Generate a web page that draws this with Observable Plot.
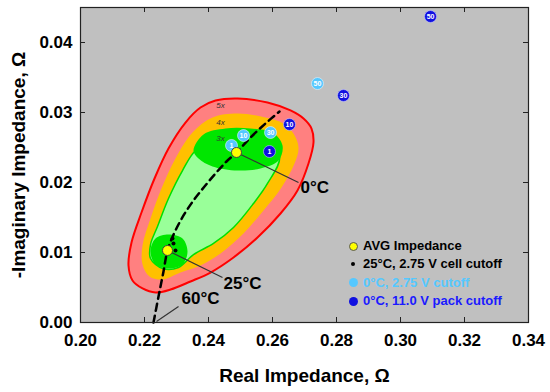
<!DOCTYPE html>
<html>
<head>
<meta charset="utf-8">
<script src="https://cdn.jsdelivr.net/npm/d3@7"></script>
<script src="https://cdn.jsdelivr.net/npm/@observablehq/plot@0.6"></script>
<style>
  body { margin: 0; background: #fff; }
  #wrap { position: relative; width: 550px; height: 392px; font-family: "Liberation Sans", Arial, sans-serif; }
  #legend { position: absolute; left: 346px; top: 237px; font: bold 13px "Liberation Sans", Arial, sans-serif; line-height: 18.3px; }
  #legend .row { display: flex; align-items: center; white-space: nowrap; }
  #legend .mk { width: 14px; display: flex; justify-content: center; align-items: center; margin-right: 3px; }
  #legend .mk span { display: block; border-radius: 50%; }
</style>
</head>
<body>
<div id="wrap"></div>
<script>
// ---- data ----
const xTicks = [0.20, 0.22, 0.24, 0.26, 0.28, 0.30, 0.32, 0.34];
const yTicks = [0.00, 0.01, 0.02, 0.03, 0.04];

// 5x zone boundary (Real, -Imag)
const zone5x = [
  [0.24906,0.03200],[0.25844,0.03143],[0.26563,0.03029],[0.26969,0.02914],[0.27219,0.02771],
  [0.27281,0.02571],[0.27125,0.02271],[0.26781,0.01886],[0.26250,0.01557],[0.25531,0.01214],
  [0.24781,0.00929],[0.24063,0.00714],[0.23438,0.00586],[0.22813,0.00471],[0.22344,0.00429],
  [0.21938,0.00486],[0.21625,0.00600],[0.21500,0.00814],[0.21594,0.01143],[0.21906,0.01571],
  [0.22313,0.02057],[0.22750,0.02486],[0.23281,0.02857],[0.23750,0.03071],[0.24219,0.03171]
];
// 4x zone boundary
const zone4x = [
  [0.24906,0.02986],[0.25781,0.02929],[0.26344,0.02843],[0.26656,0.02700],[0.26813,0.02500],
  [0.26688,0.02271],[0.26281,0.01929],[0.25719,0.01600],[0.25094,0.01271],[0.24375,0.00986],
  [0.23750,0.00814],[0.23125,0.00714],[0.22563,0.00614],[0.22156,0.00657],[0.21938,0.00829],
  [0.21938,0.01100],[0.22188,0.01486],[0.22531,0.01914],[0.22969,0.02343],[0.23500,0.02714],
  [0.24125,0.02929]
];
// 3x zone boundary
const zone3x = [
  [0.23594,0.02457],[0.24219,0.02629],[0.25625,0.02629],[0.26219,0.02371],[0.25844,0.01986],
  [0.25406,0.01700],[0.24781,0.01357],[0.24156,0.01129],[0.23531,0.00971],[0.23063,0.00786],
  [0.22563,0.00771],[0.22188,0.00914],[0.22188,0.01114],[0.22406,0.01371],[0.22750,0.01771],
  [0.23188,0.02171]
];
// cores around the two averages
const core0C = [
  [0.23531,0.02457],[0.23844,0.02686],[0.24531,0.02771],[0.25313,0.02771],[0.26000,0.02714],
  [0.26313,0.02529],[0.26188,0.02314],[0.25625,0.02200],[0.24906,0.02171],[0.24125,0.02229],
  [0.23688,0.02343]
];
const core25C = [
  [0.22188,0.01014],[0.22344,0.01200],[0.22750,0.01257],[0.23188,0.01200],[0.23344,0.01014],
  [0.23188,0.00829],[0.22750,0.00771],[0.22344,0.00829]
];
// dashed temperature trend
const trend = [
  [0.22281,0.00000],[0.22438,0.00371],[0.22594,0.00729],[0.22719,0.01029],[0.22938,0.01286],
  [0.23219,0.01529],[0.23531,0.01743],[0.23875,0.01943],[0.24219,0.02129],[0.24563,0.02300],
  [0.24875,0.02429],[0.25313,0.02643],[0.25781,0.02843],[0.26219,0.03014]
];
const avgImpedance = [[0.24875,0.02429],[0.22719,0.01029]];
const cell25C = [[0.22875,0.01200],[0.22906,0.01129],[0.22969,0.01029]];
const cut0Cell = [{n:"1",x:0.24719,y:0.02529},{n:"10",x:0.25094,y:0.02671},{n:"30",x:0.25938,y:0.02714},{n:"50",x:0.27406,y:0.03414}];
const cut0Pack = [{n:"1",x:0.25906,y:0.02443},{n:"10",x:0.26531,y:0.02829},{n:"30",x:0.28219,y:0.03243},{n:"50",x:0.30938,y:0.04371}];
const zoneLabels = [{t:"5x",x:0.24375,y:0.03100},{t:"4x",x:0.24375,y:0.02857},{t:"3x",x:0.24375,y:0.02629}];
const tempNotes = [
  {t:"0°C",  x1:0.24875,y1:0.02429,x2:0.26813,y2:0.02000,tx:0.26875,ty:0.01929},
  {t:"25°C", x1:0.22719,y1:0.01029,x2:0.24438,y2:0.00643,tx:0.24469,ty:0.00557},
  {t:"60°C", x1:0.22375,y1:0.00014,x2:0.23063,y2:0.00229,tx:0.23156,ty:0.00343}
];
const legendItems = [
  {label:"AVG Impedance", color:"#000", dot:"#ffff00", size:9, border:"1px solid #555"},
  {label:"25°C, 2.75 V cell cutoff", color:"#000", dot:"#000", size:4, border:"none"},
  {label:"0°C, 2.75 V cutoff", color:"#55c8ff", dot:"#55c8ff", size:9, border:"none"},
  {label:"0°C, 11.0 V pack cutoff", color:"#1a1aff", dot:"#1010e0", size:9, border:"none"}
];

const X = d => d[0], Y = d => d[1];
const LIGHTBLUE = "#55c8ff", BLUE = "#1010e0";

const chart = Plot.plot({
  width: 550, height: 392,
  marginLeft: 80, marginRight: 22, marginTop: 7, marginBottom: 70,
  style: {fontFamily: '"Liberation Sans", Arial, sans-serif', background: "#fff", color: "#000"},
  x: {domain: [0.20, 0.34]},
  y: {domain: [0, 0.045]},
  marks: [
    Plot.frame({fill: "#c0c0c0"}),
    Plot.line(zone5x, {x: X, y: Y, curve: "catmull-rom-closed", fill: "#ff8080", stroke: "#ff0000", strokeWidth: 2}),
    Plot.line(zone4x, {x: X, y: Y, curve: "catmull-rom-closed", fill: "#ffc000", stroke: "none"}),
    Plot.line(zone3x, {x: X, y: Y, curve: "catmull-rom-closed", fill: "#99ff99", stroke: "#00e000", strokeWidth: 1.5}),
    Plot.line(core0C, {x: X, y: Y, curve: "catmull-rom-closed", fill: "#00e600", stroke: "none"}),
    Plot.line(core25C, {x: X, y: Y, curve: "catmull-rom-closed", fill: "#00e600", stroke: "none"}),
    Plot.text(zoneLabels, {x: "x", y: "y", text: "t", fontSize: 8, fill: "#333", fontStyle: "italic"}),
    Plot.line(trend, {x: X, y: Y, curve: "catmull-rom", stroke: "#000", strokeWidth: 2.5, strokeDasharray: "7,5"}),
    Plot.link(tempNotes, {x1: "x1", y1: "y1", x2: "x2", y2: "y2", stroke: "#333", strokeWidth: 1.2}),
    Plot.text(tempNotes, {x: "tx", y: "ty", text: "t", textAnchor: "start", fontSize: 17, fontWeight: "bold", fill: "#000"}),
    Plot.dot(cell25C, {x: X, y: Y, r: 2, fill: "#000"}),
    Plot.dot(cut0Cell, {x: "x", y: "y", r: 6, fill: LIGHTBLUE, stroke: "#e8f6ff", strokeWidth: 0.6}),
    Plot.text(cut0Cell, {x: "x", y: "y", text: "n", fontSize: 7, fontWeight: "bold", fill: "#fff"}),
    Plot.dot(cut0Pack, {x: "x", y: "y", r: 6, fill: BLUE, stroke: "#c8c8ff", strokeWidth: 0.6}),
    Plot.text(cut0Pack, {x: "x", y: "y", text: "n", fontSize: 7, fontWeight: "bold", fill: "#fff"}),
    Plot.dot(avgImpedance, {x: X, y: Y, r: 5, fill: "#ffff00", stroke: "#444", strokeWidth: 1}),
    // inward ticks on all four sides
    Plot.tickX(xTicks, {x: d => d, insetTop: 310, stroke: "#222"}),
    Plot.tickX(xTicks, {x: d => d, insetBottom: 310, stroke: "#222"}),
    Plot.tickY(yTicks, {y: d => d, insetRight: 443, stroke: "#222"}),
    Plot.tickY(yTicks, {y: d => d, insetLeft: 443, stroke: "#222"}),
    Plot.frame({stroke: "#222", strokeWidth: 1.2}),
    Plot.axisX(xTicks, {anchor: "bottom", tickSize: 0, tickPadding: 11, tickFormat: d3.format(".2f"), fontSize: 17, fontWeight: "bold", label: null}),
    Plot.axisY(yTicks, {anchor: "left", tickSize: 0, tickPadding: 8, tickFormat: d3.format(".2f"), fontSize: 17, fontWeight: "bold", label: null}),
    Plot.text(["Real Impedance, Ω"], {frameAnchor: "bottom", dy: 53, textAnchor: "middle", lineAnchor: "middle", fontSize: 19, fontWeight: "bold", fill: "#000"}),
    Plot.text(["-Imaginary Impedance, Ω"], {frameAnchor: "left", dx: -62, rotate: -90, textAnchor: "middle", lineAnchor: "middle", fontSize: 19, fontWeight: "bold", fill: "#000"})
  ]
});

const wrap = document.getElementById("wrap");
wrap.appendChild(chart);

const legend = document.createElement("div");
legend.id = "legend";
for (const it of legendItems) {
  const row = document.createElement("div");
  row.className = "row";
  const mk = document.createElement("div");
  mk.className = "mk";
  const s = document.createElement("span");
  s.style.width = it.size + "px";
  s.style.height = it.size + "px";
  s.style.background = it.dot;
  s.style.border = it.border;
  s.style.boxSizing = "border-box";
  mk.appendChild(s);
  const t = document.createElement("span");
  t.textContent = it.label;
  t.style.color = it.color;
  row.appendChild(mk);
  row.appendChild(t);
  legend.appendChild(row);
}
wrap.appendChild(legend);
</script>
</body>
</html>
